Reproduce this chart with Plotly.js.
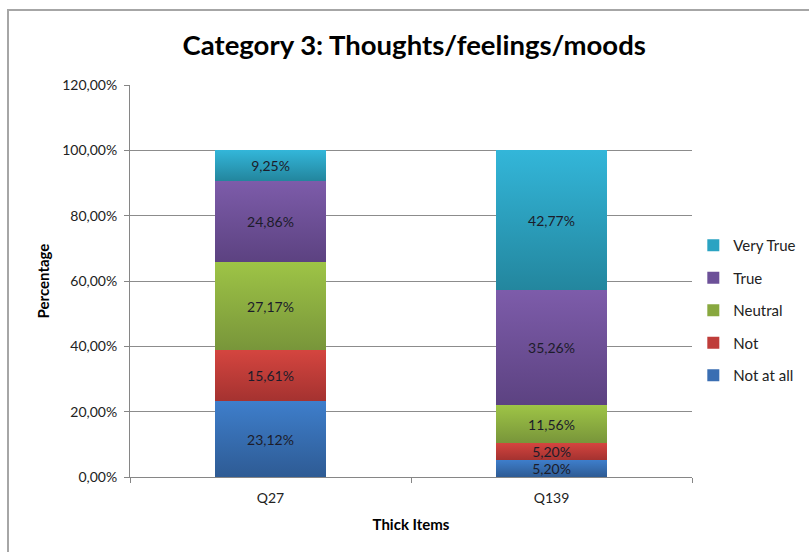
<!DOCTYPE html>
<html>
<head>
<meta charset="utf-8">
<script src="https://cdn.plot.ly/plotly-3.0.1.min.js"></script>
<style>
  html, body { margin: 0; padding: 0; background: #ffffff; }
  #wrap { position: relative; width: 809px; height: 552px; overflow: hidden; }
  #chart { width: 809px; height: 552px; }
  #frame { position: absolute; left: 7px; top: 9px; width: 820px; height: 560px;
           border-left: 2px solid #a6a6a6; border-top: 2px solid #a6a6a6; pointer-events: none; }
</style>
</head>
<body>
<div id="wrap">
  <div id="chart"></div>
  <div id="frame"></div>
</div>
<script>
const categories = ["Q27", "Q139"];
const notAtAll = [23.12, 5.20];
const notVal   = [15.61, 5.20];
const neutral  = [27.17, 11.56];
const trueVal  = [24.86, 35.26];
const veryTrue = [9.25, 42.77];
const seriesNames = ["Not at all", "Not", "Neutral", "True", "Very True"];
const tickValues = [0, 20, 40, 60, 80, 100, 120];
const tickLabels = ["0,00%", "20,00%", "40,00%", "60,00%", "80,00%", "100,00%", "120,00%"];

const seriesValues = [notAtAll, notVal, neutral, trueVal, veryTrue];
const colors = ["#3a6eb2", "#bf3d3a", "#88a83f", "#6c5098", "#2ba3c2"];
const gradTop = ["#3e7ecb", "#d4453f", "#9ec446", "#7d5caa", "#33b6d9"];
const gradBot = ["#2e5b94", "#a43230", "#78953a", "#5c4281", "#23869e"];

function fmt(v) { return v.toFixed(2).replace('.', ',') + '%'; }

const font = "Lato, 'Open Sans', 'Liberation Sans', sans-serif";

const traces = seriesValues.map((vals, i) => ({
  type: 'bar',
  name: seriesNames[i],
  x: categories,
  y: vals,
  text: vals.map(fmt),
  textposition: 'inside',
  insidetextanchor: 'middle',
  textangle: 0,
  textfont: { family: font, size: 14, color: '#1c1c2a' },
  constraintext: 'none',
  hoverinfo: 'skip',
  legendgroup: 'g' + i,
  legendrank: 10 - i,
  marker: { color: colors[i], line: { width: 0 } }
}));

const layout = {
  width: 809,
  height: 552,
  paper_bgcolor: '#ffffff',
  plot_bgcolor: '#ffffff',
  barmode: 'stack',
  bargap: 0.605,
  margin: { l: 130, r: 117, t: 85, b: 75, autoexpand: false },
  font: { family: font, size: 14, color: '#222222' },
  title: {
    text: '<b>Category 3: Thoughts/feelings/moods</b>',
    font: { family: font, size: 27.5, color: '#000000' },
    x: 0.512, xanchor: 'center',
    y: 0.918, yanchor: 'middle', yref: 'container'
  },
  xaxis: {
    type: 'category',
    showline: true, linecolor: '#868686', linewidth: 1,
    ticks: 'outside', ticklen: 5, tickcolor: '#868686', tickson: 'boundaries',
    showgrid: false,
    ticklabelstandoff: 8,
    tickfont: { family: font, size: 14, color: '#222222' },
    title: { text: '<b>Thick Items</b>', font: { family: font, size: 15, color: '#000000' }, standoff: 14 }
  },
  yaxis: {
    range: [0, 120],
    tickvals: tickValues,
    ticktext: tickLabels,
    showline: true, linecolor: '#868686', linewidth: 1,
    ticks: 'outside', ticklen: 5, tickcolor: '#868686',
    showgrid: true, gridcolor: '#8c8c8c', gridwidth: 1,
    zeroline: false,
    ticklabelstandoff: 4,
    tickfont: { family: font, size: 14, color: '#222222' },
    title: { text: '<b>Percentage</b>', font: { family: font, size: 15, color: '#000000' }, standoff: 8 }
  },
  legend: {
    xref: 'container', yref: 'container',
    x: 0.857, xanchor: 'left',
    y: 0.4375, yanchor: 'middle',
    traceorder: 'grouped',
    tracegroupgap: 10,
    itemwidth: 30,
    font: { family: font, size: 15, color: '#222222' },
    bgcolor: 'rgba(0,0,0,0)'
  },
  showlegend: true
};

Plotly.newPlot('chart', traces, layout, { staticPlot: true, displayModeBar: false }).then(gd => {
  const svg = gd.querySelector('svg.main-svg');
  const ns = 'http://www.w3.org/2000/svg';
  let defs = svg.querySelector('defs');
  if (!defs) { defs = document.createElementNS(ns, 'defs'); svg.insertBefore(defs, svg.firstChild); }
  colors.forEach((c, i) => {
    const g = document.createElementNS(ns, 'linearGradient');
    g.setAttribute('id', 'grad' + i);
    g.setAttribute('x1', '0'); g.setAttribute('y1', '0');
    g.setAttribute('x2', '0'); g.setAttribute('y2', '1');
    const s1 = document.createElementNS(ns, 'stop');
    s1.setAttribute('offset', '0'); s1.setAttribute('stop-color', gradTop[i]);
    const s2 = document.createElementNS(ns, 'stop');
    s2.setAttribute('offset', '1'); s2.setAttribute('stop-color', gradBot[i]);
    g.appendChild(s1); g.appendChild(s2);
    defs.appendChild(g);
  });
  const groups = gd.querySelectorAll('.barlayer .trace');
  groups.forEach((tg, i) => {
    tg.querySelectorAll('.point path').forEach(p => {
      p.style.fill = 'url(#grad' + i + ')';
    });
  });
});
</script>
</body>
</html>
